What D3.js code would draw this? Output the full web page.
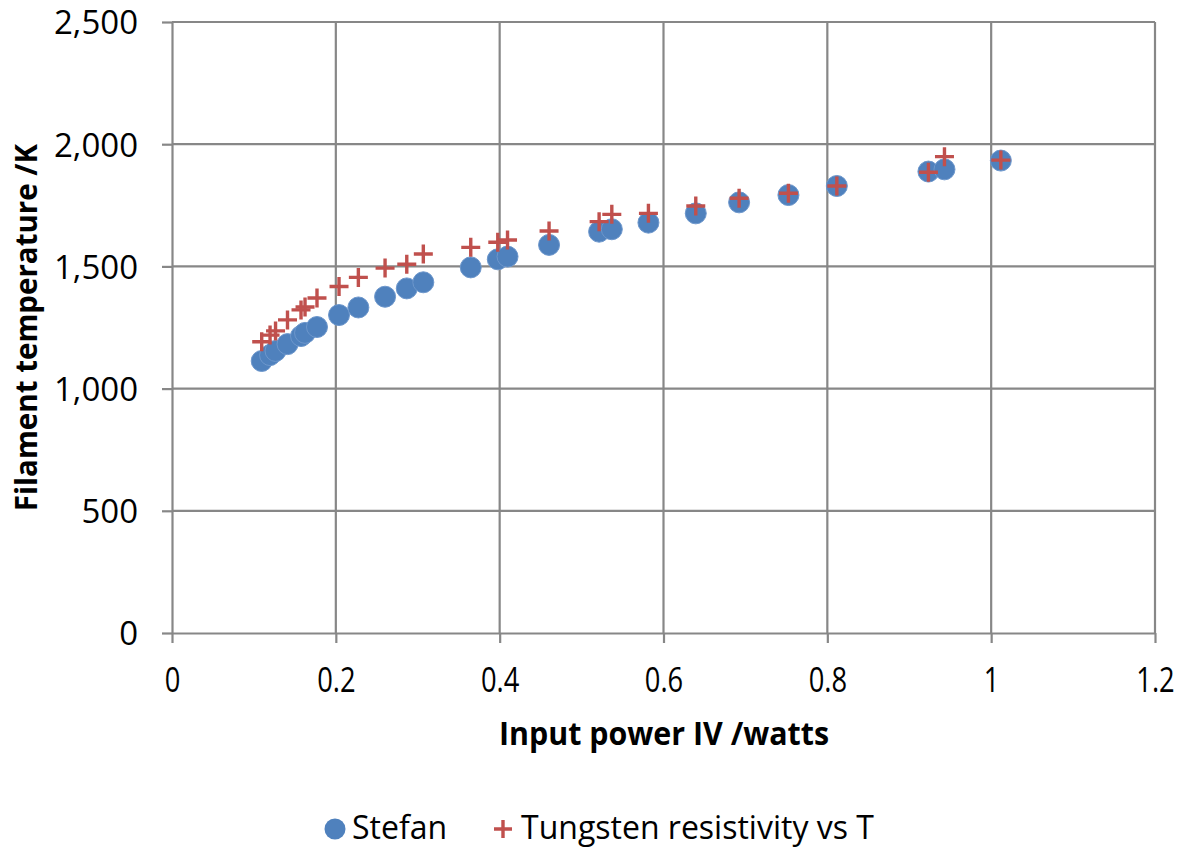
<!DOCTYPE html>
<html><head><meta charset="utf-8">
<script src="https://cdn.jsdelivr.net/npm/d3@7"></script>
<style>body{margin:0;background:#fff}svg{display:block}</style>
</head><body>
<svg id="c" width="1179" height="848"></svg>
<script>
const power = [0.1095,0.1197,0.1264,0.141,0.1575,0.1624,0.177,0.2039,0.2275,0.2601,0.2866,0.3068,0.3647,0.3977,0.4096,0.4603,0.5214,0.5369,0.5816,0.6394,0.6923,0.7525,0.8116,0.9234,0.943,1.0118];
const stefan = [1113,1137,1154,1182,1215,1228,1252,1301,1332,1376,1410,1435,1496,1529,1540,1588,1642,1652,1679,1717,1762,1792,1829,1888,1897,1933];
const tungsten = [1192,1219,1236,1281,1322,1334,1371,1418,1455,1493,1509,1551,1578,1599,1608,1645,1683,1713,1717,1747,1779,1799,1829,1885,1949,1935];
const xTicks = [0,0.2,0.4,0.6,0.8,1,1.2];
const yTicks = [0,500,1000,1500,2000,2500];
const seriesNames = ["Stefan","Tungsten resistivity vs T"];

const svg = d3.select("#c");
const L=172,R=1155,T=22,B=633;
const x = d3.scaleLinear().domain([0,1.2]).range([L,R]);
const y = d3.scaleLinear().domain([0,2500]).range([B,T]);
const grid="#878787", font="'Open Sans', sans-serif";

// gridlines
svg.append("g").selectAll("line").data(yTicks.filter(d=>d>0)).join("line")
  .attr("x1",L).attr("x2",R).attr("y1",d=>y(d)).attr("y2",d=>y(d))
  .attr("stroke",grid).attr("stroke-width",2.2);
svg.append("g").selectAll("line").data(xTicks.filter(d=>d>0)).join("line")
  .attr("y1",T).attr("y2",B).attr("x1",d=>x(d)).attr("x2",d=>x(d))
  .attr("stroke",grid).attr("stroke-width",2.2);

// axes
const fmtY = d3.format(",");
const fmtX = d=> d===0||d===1 ? String(d) : d3.format(".1f")(d);
const ya = svg.append("g").attr("transform",`translate(${L},0)`)
  .call(d3.axisLeft(y).tickValues(yTicks).tickFormat(fmtY).tickSize(10).tickSizeOuter(0).tickPadding(24));
const xa = svg.append("g").attr("transform",`translate(0,${B})`)
  .call(d3.axisBottom(x).tickValues(xTicks).tickFormat(fmtX).tickSize(10).tickSizeOuter(0).tickPadding(24));
[ya,xa].forEach(a=>{
  a.select(".domain").attr("stroke",grid).attr("stroke-width",2.2);
  a.selectAll(".tick line").attr("stroke",grid).attr("stroke-width",2.2);
  a.selectAll("text").attr("fill","#000").style("font-family",font).style("font-size","33px");
});
ya.selectAll("text").attr("dy","0.36em");
xa.selectAll("text").style("font-size","35px").attr("transform","scale(0.78,1)");

// titles
svg.append("text").attr("transform","translate(664,745) scale(0.95,1)").attr("text-anchor","middle")
  .style("font-family",font).style("font-weight","bold").style("font-size","32px").text("Input power IV /watts");
svg.append("text").attr("transform",`translate(37,${(T+B)/2}) rotate(-90)`).attr("text-anchor","middle")
  .style("font-family",font).style("font-weight","bold").style("font-size","29.5px").text("Filament temperature /K");

const data = power.map((p,i)=>({p,s:stefan[i],t:tungsten[i]}));
const blue="#4F81BD", red="#C0504D";
// Stefan circles
svg.append("g").selectAll("circle").data(data).join("circle")
  .attr("cx",d=>x(d.p)).attr("cy",d=>y(d.s)).attr("r",10.5)
  .attr("fill",blue).attr("stroke","#6d97cc").attr("stroke-width",1);
// Tungsten crosses
const cross = (g,cx,cy,h)=>g.append("path").attr("d",`M${cx-h},${cy}H${cx+h}M${cx},${cy-h}V${cy+h}`)
  .attr("stroke",red).attr("stroke-width",3.4).attr("fill","none");
const cg = svg.append("g");
data.forEach(d=>cross(cg,x(d.p),y(d.t),9.5));

// legend
const lg = svg.append("g");
lg.append("circle").attr("cx",335).attr("cy",829).attr("r",10.5).attr("fill",blue);
lg.append("text").attr("x",352).attr("y",839).style("font-family",font).style("font-size","32px").text(seriesNames[0]);
cross(lg,503,829,9);
lg.append("text").attr("x",521).attr("y",839).style("font-family",font).style("font-size","32px").text(seriesNames[1]);
</script>
</body></html>
